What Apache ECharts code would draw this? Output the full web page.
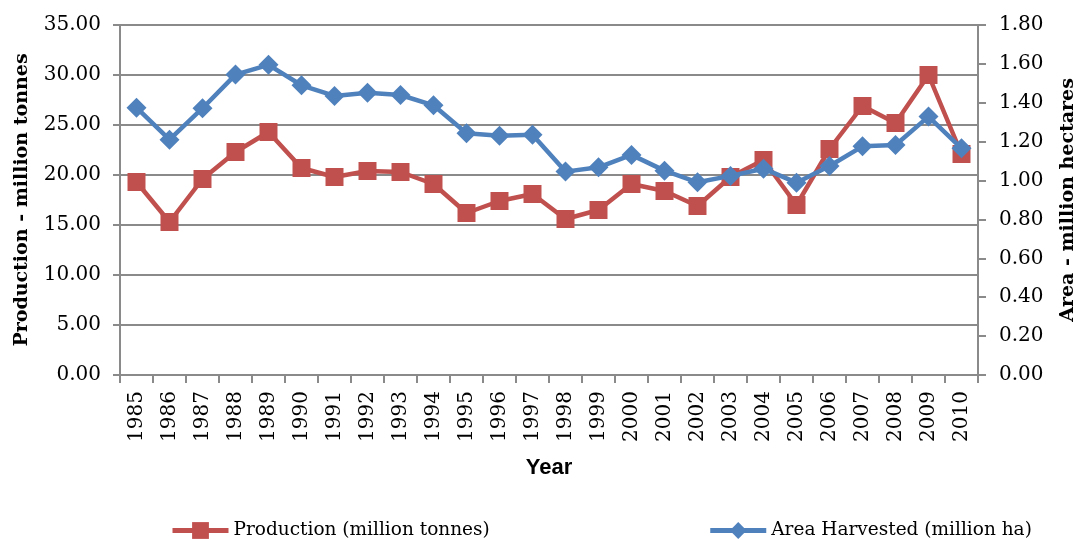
<!DOCTYPE html>
<html>
<head>
<meta charset="utf-8">
<script src="https://cdn.jsdelivr.net/npm/echarts@6/dist/echarts.min.js"></script>
<style>html,body{margin:0;padding:0;background:#fff}#c{width:1077px;height:540px}</style>
</head>
<body>
<div id="c"></div>
<script>
const years = ['1985','1986','1987','1988','1989','1990','1991','1992','1993','1994','1995','1996','1997','1998','1999','2000','2001','2002','2003','2004','2005','2006','2007','2008','2009','2010'];
const production = [19.3,15.3,19.6,22.3,24.3,20.7,19.8,20.4,20.3,19.1,16.2,17.4,18.1,15.6,16.5,19.1,18.4,16.9,19.8,21.5,17.0,22.6,26.9,25.2,30.0,22.1];
const area = [1.375,1.21,1.372,1.545,1.595,1.49,1.435,1.452,1.44,1.387,1.243,1.23,1.235,1.046,1.068,1.132,1.051,0.991,1.024,1.061,0.989,1.075,1.176,1.183,1.329,1.166];
const leftTicks = {min:0, max:35, interval:5};
const rightTicks = {min:0, max:1.8, interval:0.2};

const gray = '#8a8a8a';
const serif = 'DejaVu Serif';
const chart = echarts.init(document.getElementById('c'), null, {renderer:'canvas'});
chart.setOption({
  animation:false,
  backgroundColor:'#fff',
  grid:{left:120, right:99, top:25, bottom:165, containLabel:false, outerBoundsMode:'none'},
  legend:{
    left:165, top:516, itemWidth:56, itemHeight:21, itemGap:218,
    lineStyle:{width:5},
    textStyle:{fontFamily:serif, fontSize:18.5, color:'#000'},
    data:['Production (million tonnes)','Area Harvested (million ha)']
  },
  xAxis:{
    type:'category', data:years, boundaryGap:true,
    name:'Year', nameLocation:'middle', nameGap:82,
    nameTextStyle:{fontFamily:'Liberation Sans', fontWeight:'bold', fontSize:22, color:'#000'},
    axisLine:{lineStyle:{color:gray, width:2}},
    axisTick:{show:true, length:8, lineStyle:{color:gray, width:2}},
    axisLabel:{rotate:90, interval:0, margin:16, fontFamily:serif, fontSize:20, color:'#000'}
  },
  yAxis:[{
    type:'value', min:leftTicks.min, max:leftTicks.max, interval:leftTicks.interval,
    name:'Production - million tonnes', nameLocation:'middle', nameRotate:90, nameGap:88,
    nameTextStyle:{fontFamily:serif, fontWeight:'bold', fontSize:19, color:'#000'},
    axisLine:{show:true, lineStyle:{color:gray, width:2}},
    axisTick:{show:true, length:7, lineStyle:{color:gray, width:2}},
    axisLabel:{margin:19, fontFamily:serif, fontSize:20, color:'#000', formatter:v=>v.toFixed(2)},
    splitLine:{show:true, lineStyle:{color:gray, width:2}}
  },{
    type:'value', position:'right', min:rightTicks.min, max:rightTicks.max, interval:rightTicks.interval,
    name:'Area - million hectares', nameLocation:'middle', nameRotate:90, nameGap:81,
    nameTextStyle:{fontFamily:serif, fontWeight:'bold', fontSize:19, color:'#000'},
    axisLine:{show:true, lineStyle:{color:gray, width:2}},
    axisTick:{show:true, length:8, lineStyle:{color:gray, width:2}},
    axisLabel:{margin:21, fontFamily:serif, fontSize:20, color:'#000', formatter:v=>v.toFixed(2)},
    splitLine:{show:false}
  }],
  series:[{
    name:'Production (million tonnes)', type:'line', yAxisIndex:0, data:production,
    symbol:'rect', symbolSize:18, showAllSymbol:true,
    itemStyle:{color:'#C0504D'}, lineStyle:{color:'#C0504D', width:4.5}, z:2
  },{
    name:'Area Harvested (million ha)', type:'line', yAxisIndex:1, data:area,
    symbol:'diamond', symbolSize:20, showAllSymbol:true,
    itemStyle:{color:'#4F81BD'}, lineStyle:{color:'#4F81BD', width:4.5}, z:3
  }]
});
</script>
</body>
</html>
